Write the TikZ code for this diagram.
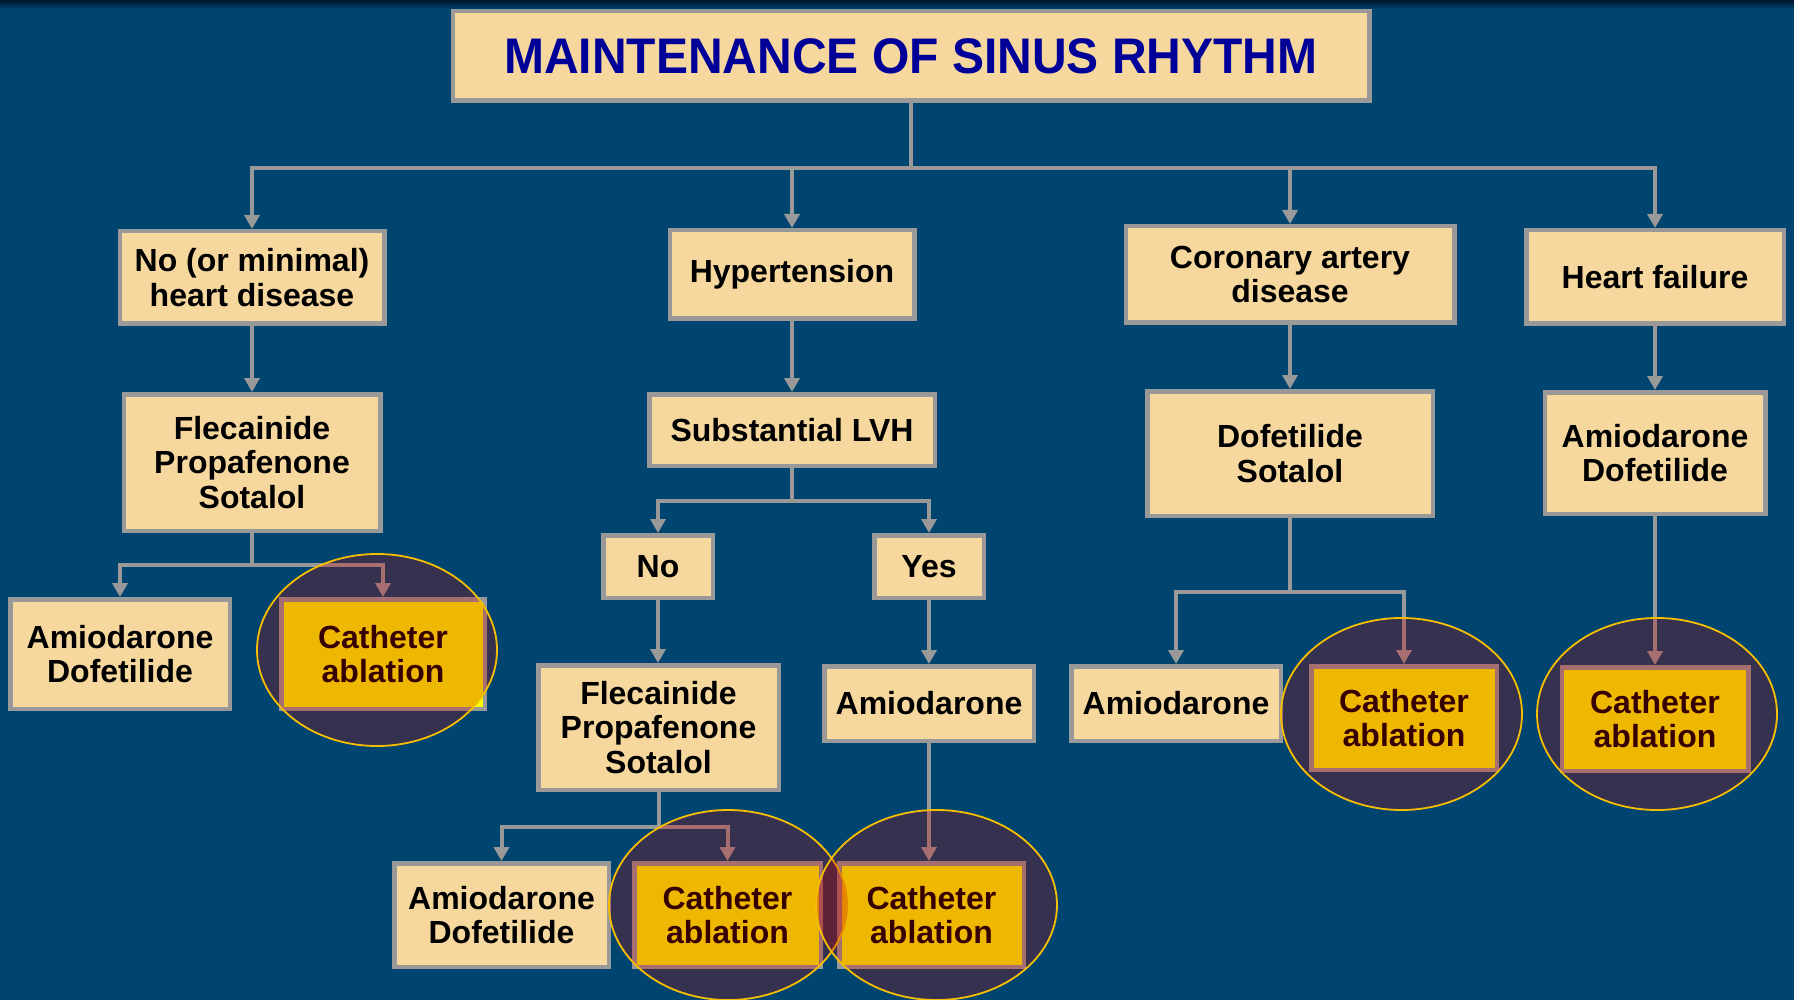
\documentclass[tikz,border=0pt]{standalone}
\usepackage{fontspec}
\setmainfont{Liberation Sans}
\usetikzlibrary{shapes.geometric,arrows.meta}
\definecolor{bgc}{RGB}{0,68,112}
\definecolor{bgtop}{RGB}{0,22,45}
\definecolor{boxfill}{RGB}{246,216,158}
\definecolor{bordgray}{RGB}{153,153,153}
\definecolor{titleblue}{RGB}{0,0,153}
\definecolor{cathfill}{RGB}{255,255,0}
\definecolor{tint}{RGB}{200,0,0}
\definecolor{ringgold}{RGB}{245,190,0}
\newcommand\bxfont{\fontsize{32}{34.5}\selectfont\bfseries}
\newcommand\ttlfont{\fontsize{50}{56}\selectfont\bfseries}
\tikzset{
  box/.style={draw=bordgray, fill=boxfill, line width=4.5pt, inner sep=0pt, align=center, font=\bxfont, text=black},
  cath/.style={box, fill=cathfill},
  sz/.style 2 args={minimum width={#1-4.5}, minimum height={#2-4.5}},
  conn/.style={draw=bordgray, line width=4pt},
  arr/.style={conn, -{Triangle[width=15pt,length=14pt]}},
  ring/.style={ellipse, draw=ringgold, line width=1.8pt, fill=tint, fill opacity=0.28, inner sep=0pt}
}
\begin{document}
\begin{tikzpicture}[x=1pt,y=-1pt]
\useasboundingbox (0,0) rectangle (1794,1000);
\fill[bgc] (0,0) rectangle (1794,1000);
\shade[top color=bgtop, bottom color=bgc] (0,0) rectangle (1794,9);

% boxes
\node[box, sz={921}{94}, text=titleblue, font=\ttlfont] (title) at (911,56) {\scalebox{0.96}[1]{MAINTENANCE OF SINUS RHYTHM}};

\node[box, sz={269}{97}] (nomin) at (252,277.5) {No (or minimal)\\heart disease};
\node[box, sz={249}{93}] (hyp) at (792,274.5) {Hypertension};
\node[box, sz={333}{101}] (cad) at (1290,274.5) {Coronary artery\\disease};
\node[box, sz={262}{98}] (hf) at (1655,277) {Heart failure};

\node[box, sz={261}{141}] (flec1) at (252,462.5) {Flecainide\\Propafenone\\Sotalol};
\node[box, sz={290}{76}] (lvh) at (792,430) {Substantial LVH};
\node[box, sz={290}{129}] (dofsot) at (1290,453.5) {Dofetilide\\Sotalol};
\node[box, sz={225}{126}] (amdof4) at (1655,453) {Amiodarone\\Dofetilide};

\node[box, sz={224}{114}] (amdof1) at (120,654) {Amiodarone\\Dofetilide};
\node[cath, sz={208}{114}] (cath1) at (383,654) {Catheter\\ablation};
\node[box, sz={114}{67}] (no) at (658,566.5) {No};
\node[box, sz={114}{67}] (yes) at (929,566.5) {Yes};

\node[box, sz={245}{129}] (flec2) at (658.5,727.5) {Flecainide\\Propafenone\\Sotalol};
\node[box, sz={214}{79}] (amio2) at (929,703.5) {Amiodarone};
\node[box, sz={214}{79}] (amio3) at (1176,703.5) {Amiodarone};
\node[cath, sz={190}{108}] (cath3) at (1404,718) {Catheter\\ablation};
\node[cath, sz={191}{108}] (cath4) at (1655,719) {Catheter\\ablation};

\node[box, sz={219}{108}] (amdof5) at (501.5,915) {Amiodarone\\Dofetilide};
\node[cath, sz={191}{108}] (cath5) at (727.5,915) {Catheter\\ablation};
\node[cath, sz={189}{108}] (cath6) at (931.5,915) {Catheter\\ablation};

% connectors
\coordinate (bus) at (911,168);
\coordinate (j1) at (252,565);
\coordinate (j2) at (792,501);
\coordinate (j3) at (658.5,827);
\coordinate (j4) at (1290,592);

\draw[conn] (title.south) -- (bus);
\draw[arr] (bus) -| (nomin.north);
\draw[arr] (bus) -| (hf.north);
\draw[arr] (bus -| hyp.north) -- (hyp.north);
\draw[arr] (bus -| cad.north) -- (cad.north);

\draw[arr] (nomin.south) -- (nomin.south |- flec1.north);
\draw[conn] (flec1.south) -- (j1);
\draw[arr] (j1) -| (amdof1.north);
\draw[arr] (j1) -| (cath1.north);

\draw[arr] (hyp.south) -- (hyp.south |- lvh.north);
\draw[conn] (lvh.south) -- (j2);
\draw[arr] (j2) -| (no.north);
\draw[arr] (j2) -| (yes.north);
\draw[arr] (no.south) -- (no.south |- flec2.north);
\draw[arr] (yes.south) -- (yes.south |- amio2.north);
\draw[conn] (flec2.south) -- (j3);
\draw[arr] (j3) -| (amdof5.north);
\draw[arr] (j3) -| (cath5.north);
\draw[arr] (amio2.south) -- (amio2.south |- cath6.north);

\draw[arr] (cad.south) -- (cad.south |- dofsot.north);
\draw[conn] (dofsot.south) -- (j4);
\draw[arr] (j4) -| (amio3.north);
\draw[arr] (j4) -| (cath3.north);

\draw[arr] (hf.south) -- (hf.south |- amdof4.north);
\draw[arr] (amdof4.south) -- (amdof4.south |- cath4.north);

% highlight rings
\node[ring, minimum width=240, minimum height=192] (r1) at (377,650) {};
\node[ring, minimum width=241, minimum height=192] (r3) at (1401.5,714) {};
\node[ring, minimum width=240, minimum height=192] (r4) at (1657,714) {};
\node[ring, minimum width=238, minimum height=190] (r5) at (728,905) {};
\node[ring, minimum width=241, minimum height=190] (r6) at (936.5,905) {};
\end{tikzpicture}
\end{document}
